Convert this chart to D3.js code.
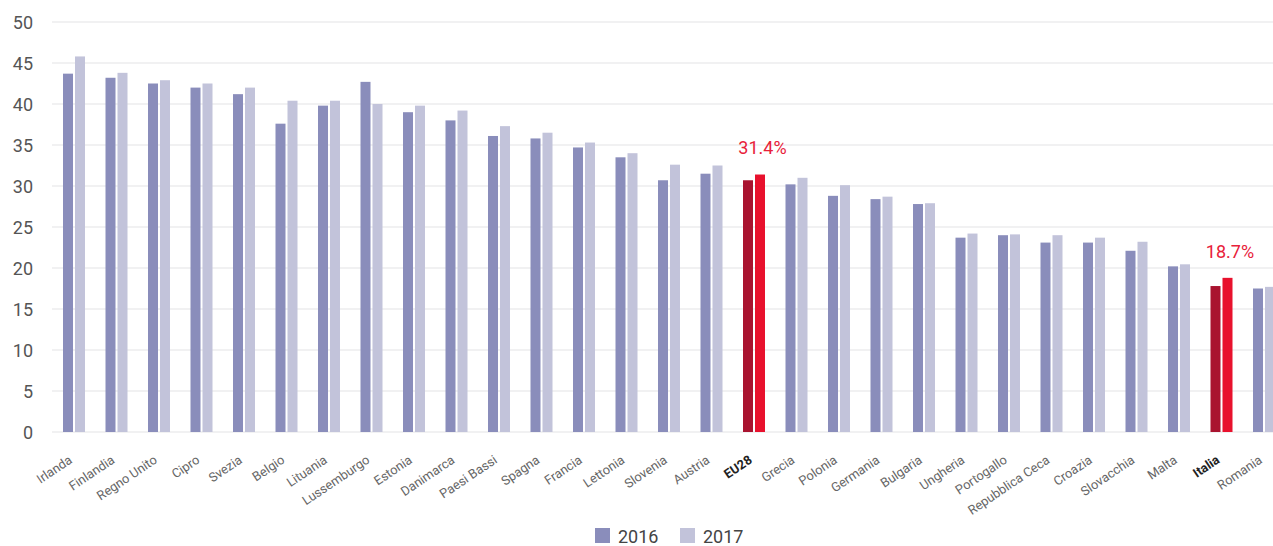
<!DOCTYPE html>
<html><head><meta charset="utf-8">
<script src="https://cdn.jsdelivr.net/npm/d3@7"></script>
<style>body{margin:0;background:#fff;}svg{display:block;font-family:Roboto,"DejaVu Sans",sans-serif;}</style>
</head><body><svg id="c" width="1273" height="546"></svg>
<script>
const categories = ["Irlanda","Finlandia","Regno Unito","Cipro","Svezia","Belgio","Lituania","Lussemburgo","Estonia","Danimarca","Paesi Bassi","Spagna","Francia","Lettonia","Slovenia","Austria","EU28","Grecia","Polonia","Germania","Bulgaria","Ungheria","Portogallo","Repubblica Ceca","Croazia","Slovacchia","Malta","Italia","Romania"];
const values2016 = [43.7,43.2,42.5,42.0,41.2,37.6,39.8,42.7,39.0,38.0,36.1,35.8,34.7,33.5,30.7,31.5,30.7,30.2,28.8,28.4,27.8,23.7,24.0,23.1,23.1,22.1,20.2,17.8,17.5];
const values2017 = [45.8,43.8,42.9,42.5,42.0,40.4,40.4,40.0,39.8,39.2,37.3,36.5,35.3,34.0,32.6,32.5,31.4,31.0,30.1,28.7,27.9,24.2,24.1,24.0,23.7,23.2,20.45,18.8,17.7];
const years = ["2016","2017"];
const yTicks = [0,5,10,15,20,25,30,35,40,45,50];
const highlighted = ["EU28","Italia"];
const annotations = [{cat:"EU28", text:"31.4%", value:31.4},{cat:"Italia", text:"18.7%", value:18.7}];

const svg = d3.select("#c");
const x = d3.scaleBand().domain(categories).range([52.75, 1285.25]).paddingInner(0).paddingOuter(0);
const y = d3.scaleLinear().domain([0,50]).range([432, 22]);
const bw = 10, gap = 2;

// gridlines
svg.append("g").selectAll("line").data(yTicks).join("line")
  .attr("x1", 52).attr("x2", 1273)
  .attr("y1", d => y(d)).attr("y2", d => y(d))
  .attr("stroke", "#e3e3e6").attr("stroke-width", 1.2);

// y axis labels
const yAxis = d3.axisLeft(y).tickValues(yTicks).tickSize(0).tickPadding(0);
const gy = svg.append("g").attr("transform", "translate(33,0)").call(yAxis);
gy.select(".domain").remove();
gy.selectAll("text").attr("font-size", 18).attr("fill", "#555").attr("font-family","Roboto, sans-serif").attr("dy","0.35em");

const col = (cat, yi) => {
  if (highlighted.includes(cat)) return yi === 0 ? "#a9132f" : "#e8112d";
  return yi === 0 ? "#8a8dbb" : "#c2c3da";
};

const series = [values2016, values2017];
series.forEach((vals, yi) => {
  svg.append("g").selectAll("rect").data(categories).join("rect")
    .attr("x", d => x(d) + x.bandwidth()/2 + (yi === 0 ? -(bw + gap/2) : gap/2))
    .attr("width", bw)
    .attr("y", (d,i) => y(vals[i]))
    .attr("height", (d,i) => y(0) - y(vals[i]))
    .attr("fill", d => col(d, yi));
});

// annotations
svg.append("g").selectAll("text").data(annotations).join("text")
  .attr("x", d => x(d.cat) + x.bandwidth()/2 + 8.5)
  .attr("y", d => y(d.value) - 21)
  .attr("text-anchor", "middle")
  .attr("font-size", 18).attr("fill", "#e8213a")
  .text(d => d.text);

// x labels
svg.append("g").selectAll("text").data(categories).join("text")
  .attr("transform", d => `translate(${x(d) + x.bandwidth()/2 - 1},${462}) rotate(-34)`)
  .attr("text-anchor", "end")
  .attr("font-size", 12.8)
  .attr("font-weight", d => highlighted.includes(d) ? 700 : 400)
  .attr("fill", d => highlighted.includes(d) ? "#222" : "#666")
  .text(d => d);

// legend
const legend = svg.append("g").attr("transform", "translate(595,528)");
const lx = [0, 85];
years.forEach((yr, i) => {
  legend.append("rect").attr("x", lx[i]).attr("y", 0).attr("width", 15).attr("height", 15)
    .attr("fill", i === 0 ? "#8a8dbb" : "#c2c3da");
  legend.append("text").attr("x", lx[i] + 23).attr("y", 15).attr("font-size", 18).attr("fill", "#444").text(yr);
});
</script></body></html>
